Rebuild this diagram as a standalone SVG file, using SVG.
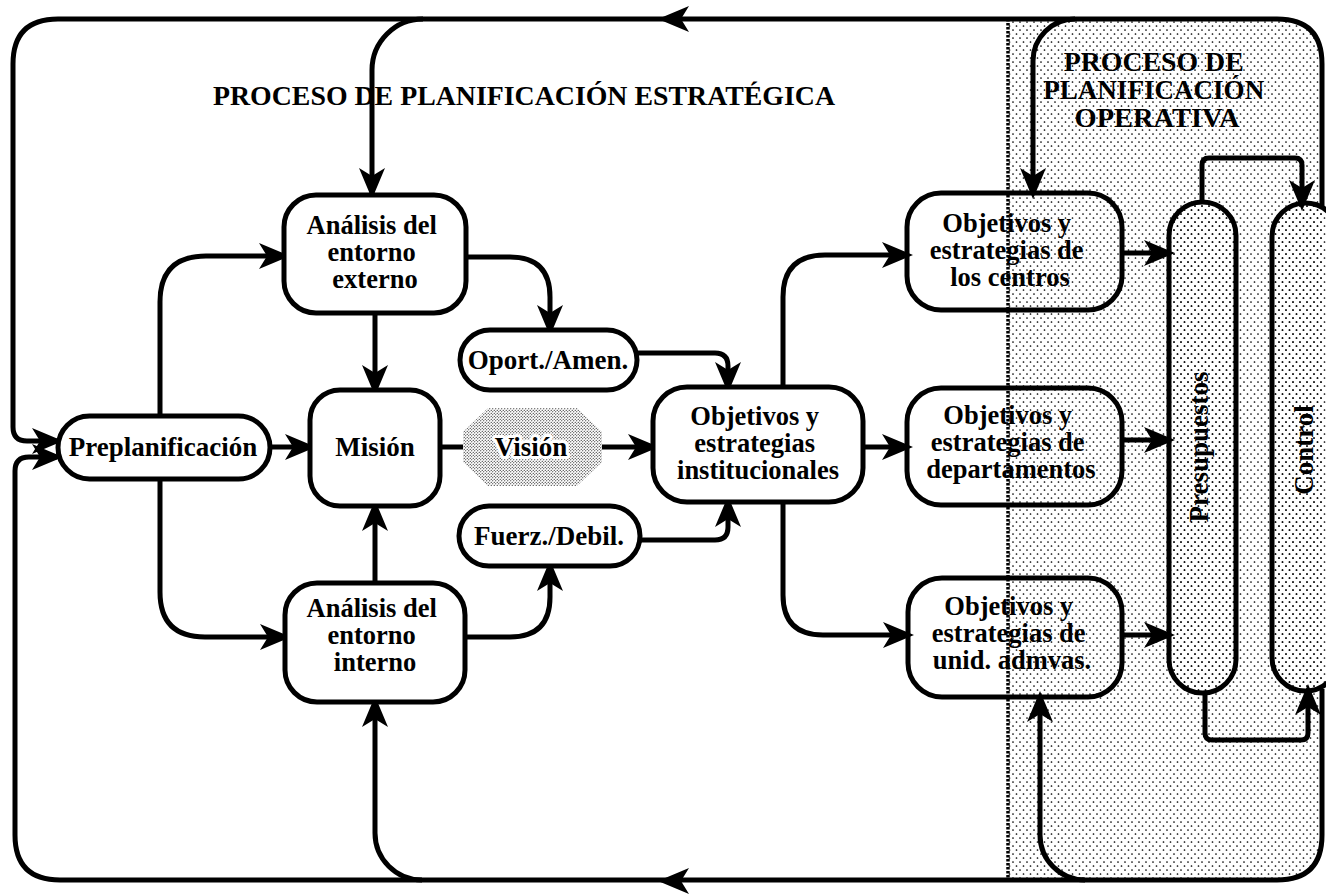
<svg xmlns="http://www.w3.org/2000/svg" width="1326" height="895" viewBox="0 0 1326 895">
  <style>
    .ln{fill:none;stroke:#000;stroke-width:5;stroke-linejoin:round;stroke-linecap:butt}
    .ar{marker-end:url(#ah)}
    .box{fill:#fff;stroke:#000;stroke-width:5}
    .ob{fill:none;stroke:#000;stroke-width:5}
    .pil{fill:url(#dots);stroke:#000;stroke-width:5}
    text{font-family:"Liberation Serif","Times New Roman",serif;font-weight:bold;fill:#000}
    .t{font-size:27px;text-anchor:middle}
    .m{font-size:26.5px;text-anchor:middle}
    .h{font-size:27.5px;text-anchor:middle}
  </style>
  <defs>
    <!-- arrowhead with its tip at the origin, pointing along +x -->
    <path id="head" d="M-31,-13 L0,0 L-31,13 L-23,0 Z" fill="#000"/>
    <marker id="ah" markerUnits="userSpaceOnUse" markerWidth="36" markerHeight="30" viewBox="-33 -15 36 30" refX="-6" refY="0" orient="auto" overflow="visible">
      <use href="#head"/>
    </marker>
    <!-- light stipple of the operative-planning area -->
    <pattern id="dots" patternUnits="userSpaceOnUse" width="7" height="8">
      <circle cx="1.5" cy="2" r="0.85" fill="#000"/>
      <circle cx="5" cy="6" r="0.85" fill="#000"/>
    </pattern>
    <!-- dense stipple of the vision node -->
    <pattern id="dense" patternUnits="userSpaceOnUse" width="3" height="3">
      <circle cx="0.75" cy="0.75" r="0.6" fill="#000"/>
      <circle cx="2.25" cy="2.25" r="0.6" fill="#000"/>
    </pattern>
  </defs>

  <rect width="1326" height="895" fill="#fff"/>

  <!-- operative planning area -->
  <g id="operative-area">
    <path d="M1008,19 H1277 Q1322,19 1322,64 V835 Q1322,880 1277,880 H1008 Z" fill="url(#dots)"/>
    <line x1="1008" y1="19" x2="1008" y2="880" stroke="#000" stroke-width="3.5" stroke-dasharray="2.5,1.5"/>
  </g>

  <!-- titles -->
  <g id="titles">
    <text class="h" x="524" y="105" textLength="622" lengthAdjust="spacingAndGlyphs">PROCESO DE PLANIFICACIÓN ESTRATÉGICA</text>
    <text class="m">
      <tspan x="1157" y="71" textLength="180" lengthAdjust="spacingAndGlyphs">PROCESO DE</tspan>
      <tspan x="1157" y="99" textLength="221" lengthAdjust="spacingAndGlyphs">PLANIFICACIÓN</tspan>
      <tspan x="1157" y="127" textLength="165" lengthAdjust="spacingAndGlyphs">OPERATIVA</tspan>
    </text>
  </g>

  <!-- connectors -->
  <g id="connectors">
    <!-- outer feedback loop, top and left -->
    <path class="ln ar" d="M1322,207 V64 Q1322,19 1277,19 H58 Q13,19 13,64 V427 Q13,441 27,441 H57"/>
    <use href="#head" transform="translate(658,19) rotate(180)"/>
    <path class="ln ar" d="M423,19 A51,51 0 0 0 372,70 V193"/>
    <path class="ln ar" d="M1075,19 A42,42 0 0 0 1033,61 V193"/>
    <!-- outer feedback loop, bottom and left -->
    <path class="ln ar" d="M1322,689 V835 Q1322,880 1277,880 H60 Q15,880 15,835 V471 Q15,457 29,457 H57"/>
    <use href="#head" transform="translate(658,881) rotate(180)"/>
    <path class="ln ar" d="M422,880 A47,47 0 0 1 375,833 V702"/>
    <path class="ln ar" d="M1085,880 A45,45 0 0 1 1040,835 V697"/>
    <!-- strategic flow -->
    <path class="ln ar" d="M270,447 H310"/>
    <path class="ln ar" d="M160,416 V302 Q160,256 206,256 H284"/>
    <path class="ln ar" d="M160,479 V592 Q160,637 205,637 H285"/>
    <path class="ln ar" d="M375,313 V390"/>
    <path class="ln ar" d="M375,583 V506"/>
    <path class="ln ar" d="M466,257 H510 Q550,257 550,297 V330"/>
    <path class="ln ar" d="M465,637 H510 Q550,637 550,597 V566"/>
    <path class="ln" d="M440,447 H463"/>
    <path class="ln ar" d="M602,447 H653"/>
    <path class="ln ar" d="M637,353 H715 Q728,353 728,366 V387"/>
    <path class="ln ar" d="M640,540 H715 Q728,540 728,527 V502"/>
    <path class="ln ar" d="M783,387 V297 Q783,255 825,255 H907"/>
    <path class="ln ar" d="M863,447 H907"/>
    <path class="ln ar" d="M783,502 V595 Q783,635 823,635 H908"/>
    <!-- operative flow -->
    <path class="ln ar" d="M1122,253 H1169"/>
    <path class="ln ar" d="M1122,440 H1169"/>
    <path class="ln ar" d="M1122,635 H1169"/>
    <path class="ln ar" d="M1202,204 V165 Q1202,158 1209,158 H1295 Q1302,158 1302,165 V205"/>
    <path class="ln ar" d="M1205,691 V733 Q1205,740 1212,740 H1301 Q1308,740 1308,733 V690"/>
  </g>

  <!-- nodes -->
  <g id="preplanificacion">
    <rect class="box" x="58" y="416" width="212" height="63" rx="31.5"/>
    <text class="t" x="163" y="456">Preplanificación</text>
  </g>
  <g id="analisis-externo">
    <rect class="box" x="284" y="195" width="182" height="118" rx="32"/>
    <text class="m">
      <tspan x="375" y="234">Análisis del</tspan>
      <tspan x="375" y="261">entorno</tspan>
      <tspan x="375" y="288">externo</tspan>
    </text>
  </g>
  <g id="mision">
    <rect class="box" x="310" y="390" width="130" height="116" rx="30"/>
    <text class="t" x="375" y="456">Misión</text>
  </g>
  <g id="analisis-interno">
    <rect class="box" x="285" y="583" width="180" height="119" rx="32"/>
    <text class="m">
      <tspan x="375" y="617">Análisis del</tspan>
      <tspan x="375" y="644">entorno</tspan>
      <tspan x="375" y="671">interno</tspan>
    </text>
  </g>
  <g id="oportunidades">
    <rect class="box" x="460" y="330" width="177" height="60" rx="30"/>
    <text class="t" x="548" y="369">Oport./Amen.</text>
  </g>
  <g id="vision">
    <polygon points="488,408 577,408 602,432 602,462 577,486 488,486 463,462 463,432" fill="url(#dense)"/>
    <text class="t" x="531" y="456" stroke="#fff" stroke-width="6" stroke-linejoin="round" paint-order="stroke">Visión</text>
  </g>
  <g id="fuerzas">
    <rect class="box" x="459" y="506" width="181" height="60" rx="30"/>
    <text class="t" x="549" y="545">Fuerz./Debil.</text>
  </g>
  <g id="objetivos-institucionales">
    <rect class="box" x="653" y="387" width="210" height="115" rx="34"/>
    <text class="m">
      <tspan x="758" y="425">Objetivos y</tspan>
      <tspan x="758" y="452">estrategias</tspan>
      <tspan x="758" y="479">institucionales</tspan>
    </text>
  </g>
  <g id="objetivos-centros">
    <rect class="ob" x="907" y="193" width="215" height="117" rx="34"/>
    <text class="m">
      <tspan x="1010" y="232">Objetivos y</tspan>
      <tspan x="1010" y="259">estrategias de</tspan>
      <tspan x="1010" y="286">los centros</tspan>
    </text>
  </g>
  <g id="objetivos-departamentos">
    <rect class="ob" x="907" y="388" width="215" height="117" rx="34"/>
    <text class="m">
      <tspan x="1011" y="424">Objetivos y</tspan>
      <tspan x="1011" y="451">estrategias de</tspan>
      <tspan x="1011" y="478">departamentos</tspan>
    </text>
  </g>
  <g id="objetivos-unidades">
    <rect class="ob" x="908" y="578" width="214" height="119" rx="34"/>
    <text class="m">
      <tspan x="1012" y="615">Objetivos y</tspan>
      <tspan x="1012" y="642">estrategias de</tspan>
      <tspan x="1012" y="669">unid. admvas.</tspan>
    </text>
  </g>
  <g id="presupuestos">
    <rect class="pil" x="1169" y="202" width="67" height="491" rx="33.5"/>
    <text class="t" transform="translate(1208,447) rotate(-90)">Presupuestos</text>
  </g>
  <g id="control">
    <rect class="pil" x="1272" y="203" width="67" height="488" rx="33.5"/>
    <text class="t" transform="translate(1313,450) rotate(-90)">Control</text>
  </g>
</svg>
